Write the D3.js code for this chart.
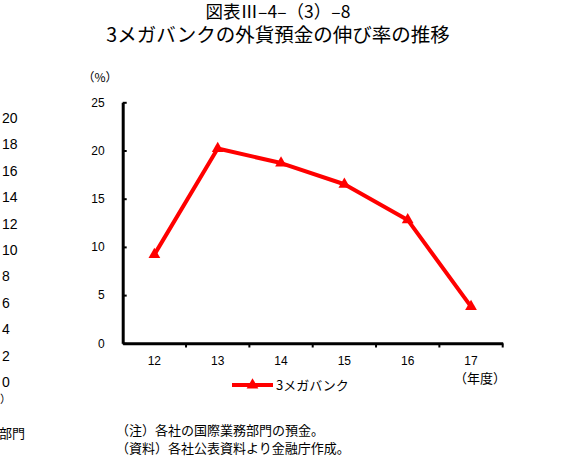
<!DOCTYPE html>
<html>
<head>
<meta charset="utf-8">
<script src="https://cdn.jsdelivr.net/npm/d3@7"></script>
<style>
body { margin: 0; background: #fff; }
text { font-family: "Liberation Sans", Arial, sans-serif; fill: #000; }
.jp { font-family: "Noto Sans CJK JP", sans-serif; }
</style>
</head>
<body>
<div class="chart-container"></div>
<script>
// Fiscal years (axis categories) and growth rate of foreign currency deposits (%)
const years = ["12", "13", "14", "15", "16", "17"]
const growth = [9.2, 20.2, 18.7, 16.5, 12.8, 3.8]
const yTicks = [0, 5, 10, 15, 20, 25]

// Cropped-off neighbour chart at the left edge
const leftTicks = [20, 18, 16, 14, 12, 10, 8, 6, 4, 2, 0]

const titleLines = ["図表Ⅲ–4–（3）–8", "3メガバンクの外貨預金の伸び率の推移"]
const seriesName = "3メガバンク"
const notes = ["（注）各社の国際業務部門の預金。", "（資料）各社公表資料より金融庁作成。"]

const width = 585, height = 472

const svg = d3.select(".chart-container").append("svg")
    .attr("width", width)
    .attr("height", height)

// Title
svg.append("g").selectAll("text")
    .data(titleLines)
    .join("text")
    .attr("class", "jp")
    .attr("x", 278)
    .attr("y", (d, i) => 18 + i * 23.5)
    .attr("text-anchor", "middle")
    .attr("font-size", (d, i) => i == 0 ? 17.5 : 19.5)
    .text(d => d)

// Scales
const x = d3.scaleBand()
    .domain(years)
    .range([122.7, 502.7])
    .padding(0)

const y = d3.scaleLinear()
    .domain([0, 25])
    .range([343.3, 102.3])

// y axis, ticks pointing inside
svg.append("g")
    .attr("transform", "translate(122.7,0)")
    .call(d3.axisLeft(y).tickValues(yTicks).tickSizeInner(-4).tickSizeOuter(0).tickPadding(18))
    .call(g => g.select(".domain").attr("stroke-width", 3))
    .call(g => g.selectAll(".tick line").attr("stroke-width", 2))
    .call(g => g.selectAll(".tick text").attr("font-size", 12).attr("font-family", "Liberation Sans, Arial, sans-serif"))

// x axis: labels at category centers, tick marks at category boundaries
svg.append("g")
    .attr("transform", "translate(0,343.3)")
    .call(d3.axisBottom(x).tickSize(0).tickPadding(13))
    .call(g => g.select(".domain").attr("stroke-width", 3))
    .call(g => g.selectAll(".tick text").attr("font-size", 12).attr("font-family", "Liberation Sans, Arial, sans-serif"))

svg.append("g").selectAll("line")
    .data(years.slice(1).concat(["end"]))
    .join("line")
    .attr("x1", d => d === "end" ? x.range()[1] : x(d))
    .attr("x2", d => d === "end" ? x.range()[1] : x(d))
    .attr("y1", 343.3)
    .attr("y2", 347.5)
    .attr("stroke", "#000")
    .attr("stroke-width", 2)

// unit labels
svg.append("text")
    .attr("class", "jp")
    .attr("x", 100)
    .attr("y", 82)
    .attr("text-anchor", "middle")
    .attr("font-size", 12)
    .text("（%）")

svg.append("text")
    .attr("class", "jp")
    .attr("x", 480)
    .attr("y", 383)
    .attr("text-anchor", "middle")
    .attr("font-size", 13)
    .text("（年度）")

// line
const line = d3.line()
    .x((d, i) => x(years[i]) + x.bandwidth() / 2)
    .y(d => y(d))

svg.append("path")
    .datum(growth)
    .attr("fill", "none")
    .attr("stroke", "#ff0000")
    .attr("stroke-width", 4)
    .attr("stroke-linejoin", "round")
    .attr("d", line)

const tri = d3.symbol().type(d3.symbolTriangle).size(60)

svg.append("g").selectAll("path")
    .data(growth)
    .join("path")
    .attr("transform", (d, i) => `translate(${x(years[i]) + x.bandwidth() / 2},${y(d)})`)
    .attr("fill", "#ff0000")
    .attr("d", tri)

// legend
const legend = svg.append("g").attr("transform", "translate(232,385)")
legend.append("line")
    .attr("x1", 0).attr("x2", 41)
    .attr("stroke", "#ff0000")
    .attr("stroke-width", 4)
legend.append("path")
    .attr("transform", "translate(20.5,0)")
    .attr("fill", "#ff0000")
    .attr("d", tri)
legend.append("text")
    .attr("class", "jp")
    .attr("x", 44)
    .attr("y", 5)
    .attr("font-size", 13)
    .text(seriesName)

// notes
svg.append("g").selectAll("text")
    .data(notes)
    .join("text")
    .attr("class", "jp")
    .attr("x", 116)
    .attr("y", (d, i) => 435 + i * 18)
    .attr("font-size", 13)
    .text(d => d)

// cropped neighbour chart
const yLeft = d3.scaleLinear().domain([0, 20]).range([382, 118])
svg.append("g").selectAll("text")
    .data(leftTicks)
    .join("text")
    .attr("x", 2)
    .attr("y", d => yLeft(d) + 5)
    .attr("font-size", 14)
    .text(d => d)

svg.append("text")
    .attr("class", "jp")
    .attr("x", 4)
    .attr("y", 94)
    .attr("text-anchor", "end")
    .attr("font-size", 13)
    .text("（%）")

svg.append("text")
    .attr("class", "jp")
    .attr("x", 11)
    .attr("y", 403)
    .attr("text-anchor", "end")
    .attr("font-size", 11)
    .text("（年度）")

svg.append("text")
    .attr("class", "jp")
    .attr("x", 25)
    .attr("y", 438)
    .attr("text-anchor", "end")
    .attr("font-size", 13)
    .text("国際業務部門")
</script>
</body>
</html>
